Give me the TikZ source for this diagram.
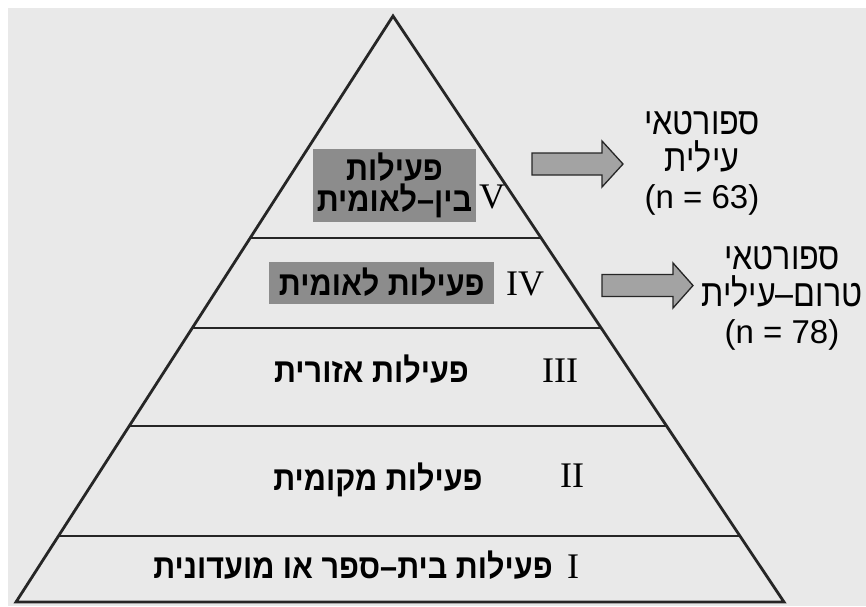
\documentclass[tikz,border=0pt]{standalone}
\usepackage{fontspec}
\newfontfamily\hebfont[Script=Hebrew, FakeStretch=0.9]{Liberation Sans}
\newfontfamily\hebnarrow[Script=Hebrew, FakeStretch=0.85]{Liberation Sans}
\newfontfamily\latfont{Liberation Sans}
\newfontfamily\romfont{Liberation Serif}
\TeXXeTstate=1
\definecolor{pBg}{HTML}{E9E9E9}
\definecolor{pInk}{HTML}{262626}
\definecolor{pBox}{HTML}{8C8C8C}
\definecolor{pArrow}{HTML}{A3A3A3}
\usepackage{tikz}
\usetikzlibrary{calc}
\newcommand{\hebline}[1]{\beginR #1\endR}

\begin{document}
\begin{tikzpicture}[x=1pt, y=-1pt,
  levtext/.style={font=\hebfont\bfseries\fontsize{34}{36}\selectfont, anchor=base, inner sep=0pt},
  levnum/.style={font=\romfont\fontsize{36}{38}\selectfont, anchor=base, inner sep=0pt},
  levbox/.style={fill=pBox, inner sep=0pt, align=center, font=\hebfont\bfseries\fontsize{34}{31}\selectfont},
  grouptext/.style={font=\hebnarrow\fontsize{38}{37}\selectfont, align=center, inner sep=0pt},
  blockarr/.style={draw=pInk, fill=pArrow, line width=1.3pt, line join=miter}]
\useasboundingbox (0,0) rectangle (866,606);
\fill[white] (0,0) rectangle (866,606);
\fill[pBg] (8,8) rectangle (866,606);
% pyramid
\coordinate (apex) at (393,16);
\coordinate (bl) at (16,602);
\coordinate (br) at (784,602);
\foreach \t in {0.3788,0.5324,0.6997,0.8874}
  \draw[pInk, line width=1.8pt] ($(apex)!\t!(bl)$) -- ($(apex)!\t!(br)$);
\draw[pInk, line width=2.8pt, line join=miter] (apex) -- (bl) -- (br) -- cycle;
% levels
\node[levbox, minimum width=163pt, minimum height=73pt] (boxV) at (394.5,185.5) {\hebline{פעילות}\\\hebline{בין–לאומית}};
\node[levbox, minimum width=225pt, minimum height=42pt] (boxIV) at (381.8,282.5) {\hebline{פעילות לאומית}};
\node[levtext] (lvIII) at (371.5,382.5) {\hebline{פעילות אזורית}};
\node[levtext] (lvII) at (378,490) {\hebline{פעילות מקומית}};
\node[levtext] (lvI) at (353,578) {\hebline{פעילות בית–ספר או מועדונית}};
\node[levnum] (numV) at (492,208) {V};
\node[levnum] (numIV) at (525,295) {IV};
\node[levnum] (numIII) at (560,382) {III};
\node[levnum] (numII) at (572,487) {II};
\node[levnum] (numI) at (573,578) {I};
% athletes
\coordinate (arrV) at (532,164);
\coordinate (arrIV) at (602,285.5);
\draw[blockarr] (arrV) ++(0,-11) -- ++(70,0) -- ++(0,-12) -- ++(21,23) -- ++(-21,23) -- ++(0,-12) -- ++(-70,0) -- cycle;
\draw[blockarr] (arrIV) ++(0,-11) -- ++(71,0) -- ++(0,-11.5) -- ++(20,22.5) -- ++(-20,22.5) -- ++(0,-11.5) -- ++(-71,0) -- cycle;
\node[grouptext] (eliteV) at (702,163) {\hebline{ספורטאי}\\\hebline{עילית}\\\latfont\fontsize{33}{37}\selectfont (n = 63)};
\node[grouptext] (eliteIV) at (782,298) {\hebline{ספורטאי}\\\hebline{טרום–עילית}\\\latfont\fontsize{33}{37}\selectfont (n = 78)};
\end{tikzpicture}
\end{document}
